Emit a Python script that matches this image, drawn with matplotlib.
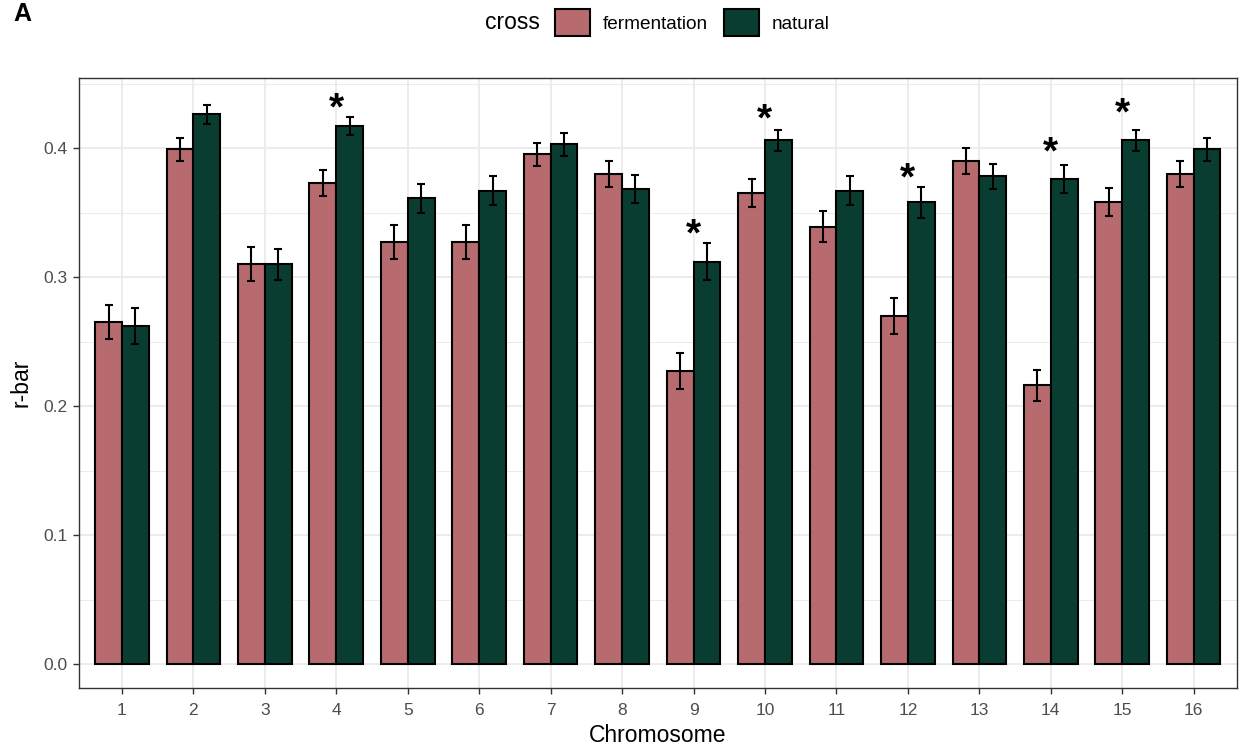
import numpy as np
import matplotlib
matplotlib.use("Agg")
import matplotlib.pyplot as plt
from matplotlib.patches import Patch
from matplotlib.ticker import MultipleLocator, FormatStrFormatter

plt.rcParams['font.family'] = ['Liberation Sans', 'DejaVu Sans']

# data
chromosomes = list(range(1, 17))
ferm_rbar = [0.265, 0.399, 0.310, 0.373, 0.327, 0.327, 0.395, 0.380,
             0.227, 0.365, 0.339, 0.270, 0.390, 0.216, 0.358, 0.380]
ferm_se = [0.013, 0.009, 0.013, 0.010, 0.013, 0.013, 0.009, 0.010,
           0.014, 0.011, 0.012, 0.014, 0.010, 0.012, 0.011, 0.010]
nat_rbar = [0.262, 0.426, 0.310, 0.417, 0.361, 0.367, 0.403, 0.368,
            0.312, 0.406, 0.367, 0.358, 0.378, 0.376, 0.406, 0.399]
nat_se = [0.014, 0.007, 0.012, 0.007, 0.011, 0.011, 0.009, 0.011,
          0.014, 0.008, 0.011, 0.012, 0.010, 0.011, 0.008, 0.009]
# significant chromosomes and star heights
star_chrom = [4, 9, 10, 12, 14, 15]
star_y = [0.430, 0.332, 0.421, 0.376, 0.396, 0.426]

ferm_col = '#B76B6E'
nat_col = '#093D31'

fig = plt.figure(figsize=(12.39, 7.52), dpi=100)
ax = fig.add_axes([0.0638, 0.0851, 0.9342, 0.8112])

x = np.array(chromosomes)
w = 0.375
err_kw = dict(ecolor='black', elinewidth=1.5, capsize=3, capthick=1.5)
ax.bar(x - w / 2, ferm_rbar, w, yerr=ferm_se, color=ferm_col,
       edgecolor='black', linewidth=1.5, error_kw=err_kw, zorder=3)
ax.bar(x + w / 2, nat_rbar, w, yerr=nat_se, color=nat_col,
       edgecolor='black', linewidth=1.5, error_kw=err_kw, zorder=3)

for c, sy in zip(star_chrom, star_y):
    ax.text(c, sy, '*', ha='center', va='center', fontsize=28,
            fontweight='bold', zorder=4)

ax.set_xlim(0.4, 16.6)
ax.set_ylim(-0.0186, 0.4543)
ax.set_xticks(chromosomes)
ax.yaxis.set_major_locator(MultipleLocator(0.1))
ax.yaxis.set_minor_locator(MultipleLocator(0.05))
ax.yaxis.set_major_formatter(FormatStrFormatter('%.1f'))
ax.grid(which='major', color='#EBEBEB', linewidth=1.3, zorder=0)
ax.grid(which='minor', axis='y', color='#EBEBEB', linewidth=0.7, zorder=0)
ax.set_axisbelow(True)
for s in ax.spines.values():
    s.set_color('#333333')
    s.set_linewidth(1.0)
ax.tick_params(which='major', length=4, width=1, color='#333333',
               labelcolor='#4D4D4D', labelsize=12.5, pad=4)
ax.tick_params(axis='x', pad=7)
ax.tick_params(which='minor', length=0)
ax.set_xlabel('Chromosome', fontsize=16.5, labelpad=4)
ax.set_ylabel('r-bar', fontsize=16.5, labelpad=8)

# legend with the title on the left
fig.text(0.4358, 0.970, 'cross', fontsize=16.5, ha='right', va='center')
handles = [Patch(facecolor=ferm_col, edgecolor='black', linewidth=1.5, label='fermentation'),
           Patch(facecolor=nat_col, edgecolor='black', linewidth=1.5, label='natural')]
fig.legend(handles=handles, loc='center left', bbox_to_anchor=(0.448, 0.970),
           ncol=2, frameon=False, fontsize=13.7, handlelength=1.84,
           handleheight=1.84, handletextpad=0.68, columnspacing=0.84,
           borderpad=0.0, borderaxespad=0.0)

fig.text(0.011, 0.997, 'A', fontsize=18, fontweight='bold', va='top')

fig.savefig('out.png', dpi=100)
